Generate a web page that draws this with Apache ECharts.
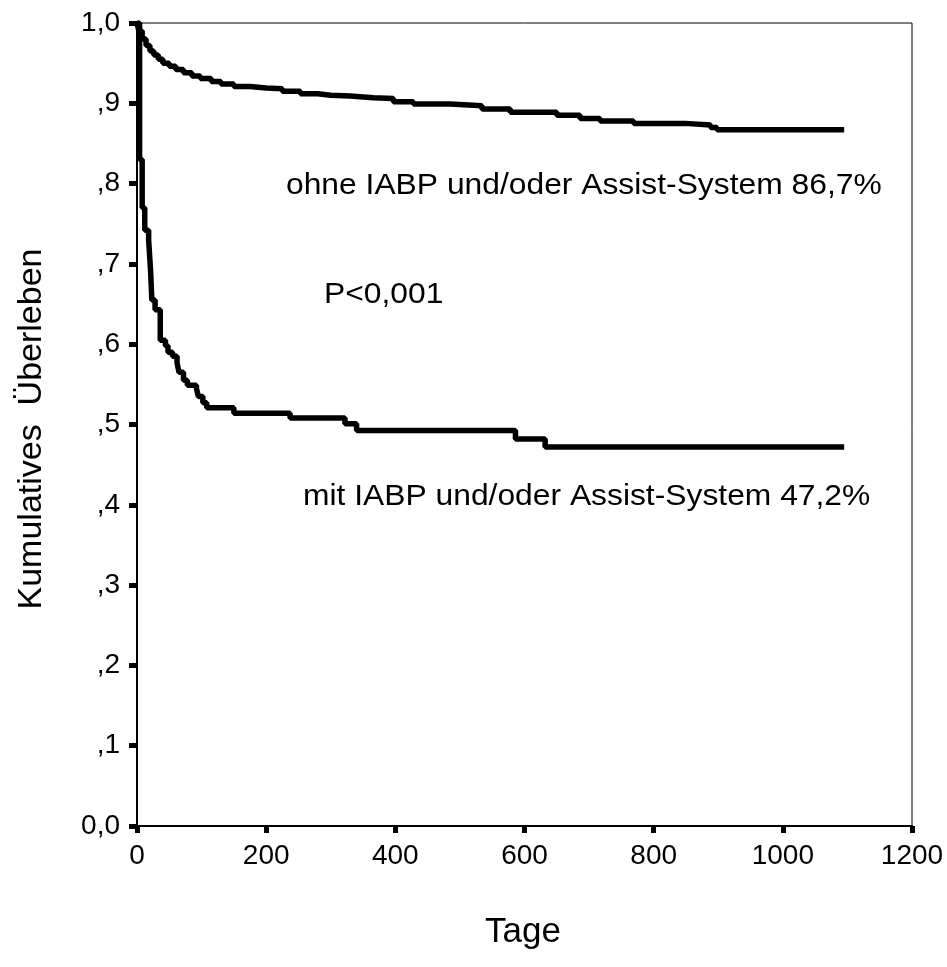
<!DOCTYPE html>
<html>
<head>
<meta charset="utf-8">
<script src="https://cdn.jsdelivr.net/npm/echarts@6/dist/echarts.min.js"></script>
<style>html,body{margin:0;padding:0;background:#fff;}#c{width:947px;height:967px;}</style>
</head>
<body>
<div id="c"></div>
<script>
// Kaplan-Meier: [day, survival]
var ohneDays = [0, 3, 8, 14, 20, 26, 33, 40, 50, 60, 72, 85, 98, 115, 130, 150, 175, 200, 225, 253, 280, 300, 330, 366, 397, 428, 485, 534, 578, 650, 686, 717, 769, 849, 888, 898, 1095];
var ohneVals = [1.0, 0.99, 0.98, 0.972, 0.965, 0.96, 0.955, 0.95, 0.946, 0.942, 0.938, 0.934, 0.931, 0.927, 0.924, 0.921, 0.919, 0.918, 0.915, 0.912, 0.910, 0.909, 0.907, 0.906, 0.902, 0.899, 0.897, 0.893, 0.889, 0.885, 0.881, 0.878, 0.875, 0.873, 0.870, 0.867, 0.867];
var mitDays = [0, 4, 8, 12, 18, 21, 23, 28, 36, 44, 48, 55, 62, 65, 72, 78, 92, 95, 102, 108, 150, 237, 322, 340, 586, 632, 1095];
var mitVals = [1.0, 0.83, 0.77, 0.742, 0.73, 0.692, 0.655, 0.643, 0.605, 0.598, 0.59, 0.585, 0.577, 0.565, 0.555, 0.549, 0.545, 0.535, 0.527, 0.521, 0.514, 0.508, 0.501, 0.4925, 0.482, 0.472, 0.472];
var yTickLabels = ['0,0', ',1', ',2', ',3', ',4', ',5', ',6', ',7', ',8', ',9', '1,0'];
var xTickLabels = ['0', '200', '400', '600', '800', '1000', '1200'];
var labelOhne = 'ohne IABP und/oder Assist-System 86,7%';
var labelMit = 'mit IABP und/oder Assist-System 47,2%';
var labelP = 'P<0,001';

function zip(a, b) { return a.map(function (d, i) { return [d, b[i]]; }); }
var FONT = '"Liberation Sans", Arial, sans-serif';
var chart = echarts.init(document.getElementById('c'));
chart.setOption({
  animation: false,
  backgroundColor: '#fff',
  grid: { left: 137, right: 35, top: 23, bottom: 141, show: true, borderColor: '#000', borderWidth: 1, containLabel: false },
  xAxis: {
    type: 'value', min: 0, max: 1200, interval: 200,
    splitLine: { show: false },
    axisLine: { lineStyle: { color: '#000', width: 2 } },
    axisTick: { show: true, length: 7, lineStyle: { color: '#000', width: 5 } },
    axisLabel: { color: '#000', fontFamily: FONT, fontSize: 28, margin: 16,
      formatter: function (v) { return xTickLabels[Math.round(v / 200)]; } }
  },
  yAxis: {
    type: 'value', min: 0, max: 1, interval: 0.1,
    splitLine: { show: false },
    axisLine: { lineStyle: { color: '#000', width: 2 } },
    axisTick: { show: true, length: 8, lineStyle: { color: '#000', width: 5 } },
    axisLabel: { color: '#000', fontFamily: FONT, fontSize: 28, margin: 17,
      formatter: function (v) { return yTickLabels[Math.round(v * 10)]; } }
  },
  series: [
    { type: 'line', step: 'end', showSymbol: false, data: zip(ohneDays, ohneVals),
      lineStyle: { color: '#000', width: 5.5 } },
    { type: 'line', step: 'end', showSymbol: false, data: zip(mitDays, mitVals),
      lineStyle: { color: '#000', width: 5.5 } }
  ],
  graphic: [
    { type: 'text', x: 286, y: 186, scaleX: 1.06, style: { text: labelOhne, font: '30px ' + FONT, fill: '#000', align: 'left', verticalAlign: 'middle' } },
    { type: 'text', x: 324, y: 295, scaleX: 1.06, style: { text: labelP, font: '30px ' + FONT, fill: '#000', align: 'left', verticalAlign: 'middle' } },
    { type: 'text', x: 303, y: 497, scaleX: 1.06, style: { text: labelMit, font: '30px ' + FONT, fill: '#000', align: 'left', verticalAlign: 'middle' } },
    { type: 'text', x: 32, y: 429, rotation: Math.PI / 2,
      style: { text: 'Kumulatives  Überleben', font: '34px ' + FONT, fill: '#000', align: 'center', verticalAlign: 'middle' } },
    { type: 'text', x: 523, y: 932, style: { text: 'Tage', font: '35px ' + FONT, fill: '#000', align: 'center', verticalAlign: 'middle' } }
  ]
});
</script>
</body>
</html>
